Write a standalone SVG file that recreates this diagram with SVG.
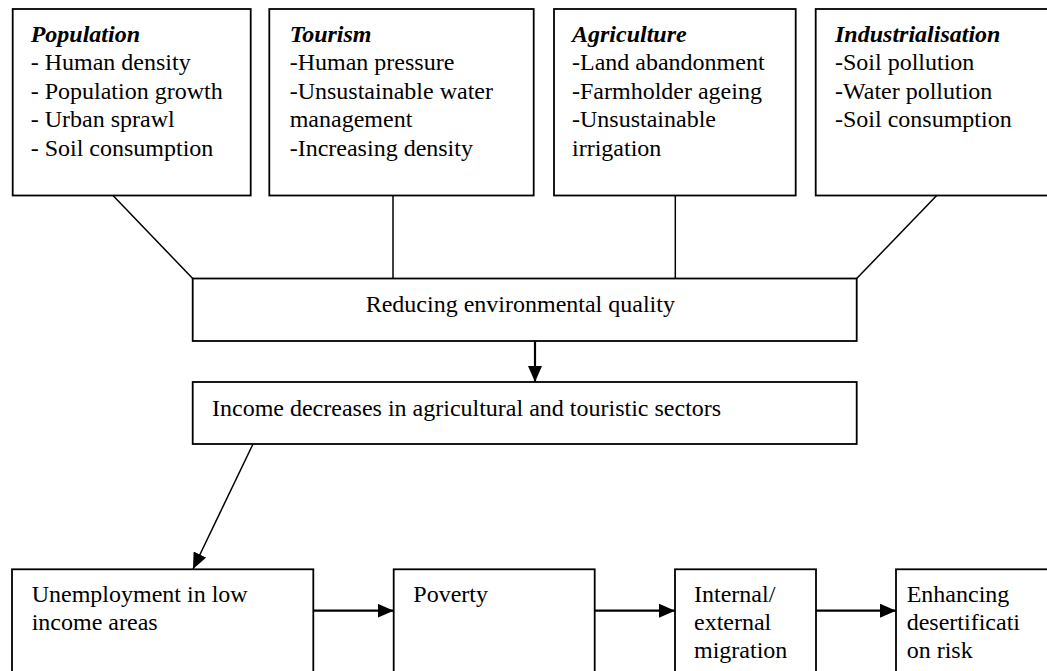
<svg xmlns="http://www.w3.org/2000/svg" width="1047" height="671" viewBox="0 0 1047 671">
<style>
.box{fill:#fff;stroke:#000;stroke-width:1.8}
.t{font-family:"Liberation Serif","Times New Roman",serif;font-size:24px;fill:#000}
.h{font-weight:bold;font-style:italic}
.ln{stroke:#000;stroke-width:1.5;fill:none}
.ar{stroke:#000;stroke-width:2.2;fill:none}
</style>
<defs>
<marker id="ah" markerUnits="userSpaceOnUse" markerWidth="16" markerHeight="14" viewBox="0 0 16 14" refX="16" refY="7" orient="auto">
<path d="M0,0 L16,7 L0,14 Z" fill="#000"/>
</marker>
</defs>
<rect width="1047" height="671" fill="#fff"/>
<g id="connectors">
<line class="ln" x1="113" y1="195.5" x2="192.7" y2="278.5"/>
<line class="ln" x1="393" y1="195.5" x2="393" y2="278.5"/>
<line class="ln" x1="675.3" y1="195.5" x2="675.3" y2="278.5"/>
<line class="ln" x1="936.7" y1="195.5" x2="856.7" y2="278.5"/>
<line class="ar" x1="535" y1="341" x2="535" y2="382" marker-end="url(#ah)"/>
<line class="ln" x1="253" y1="444" x2="193" y2="569" marker-end="url(#ah)"/>
<line class="ar" x1="313.3" y1="610.7" x2="393.7" y2="610.7" marker-end="url(#ah)"/>
<line class="ar" x1="594.7" y1="610.7" x2="675" y2="610.7" marker-end="url(#ah)"/>
<line class="ar" x1="816" y1="610.7" x2="896" y2="610.7" marker-end="url(#ah)"/>
</g>
<g id="population">
<rect class="box" x="12.7" y="9" width="238" height="186.5"/>
<text class="t" x="30.7" y="41.5"><tspan class="h">Population</tspan><tspan x="30.7" y="70">- Human density</tspan><tspan x="30.7" y="98.5">- Population growth</tspan><tspan x="30.7" y="127">- Urban sprawl</tspan><tspan x="30.7" y="155.5">- Soil consumption</tspan></text>
</g>
<g id="tourism">
<rect class="box" x="269.3" y="9" width="264.4" height="186.5"/>
<text class="t" x="289.7" y="41.5"><tspan class="h">Tourism</tspan><tspan x="289.7" y="70">-Human pressure</tspan><tspan x="289.7" y="98.5">-Unsustainable water</tspan><tspan x="289.7" y="127">management</tspan><tspan x="289.7" y="155.5">-Increasing density</tspan></text>
</g>
<g id="agriculture">
<rect class="box" x="554" y="9" width="241.7" height="186.5"/>
<text class="t" x="572" y="41.5"><tspan class="h">Agriculture</tspan><tspan x="572" y="70">-Land abandonment</tspan><tspan x="572" y="98.5">-Farmholder ageing</tspan><tspan x="572" y="127">-Unsustainable</tspan><tspan x="572" y="155.5">irrigation</tspan></text>
</g>
<g id="industrialisation">
<rect class="box" x="815.7" y="9" width="240" height="186.5"/>
<text class="t" x="835" y="41.5"><tspan class="h">Industrialisation</tspan><tspan x="835" y="70">-Soil pollution</tspan><tspan x="835" y="98.5">-Water pollution</tspan><tspan x="835" y="127">-Soil consumption</tspan></text>
</g>
<g id="reducing">
<rect class="box" x="192.7" y="278.5" width="664" height="62.5"/>
<text class="t" x="365.7" y="311.7">Reducing environmental quality</text>
</g>
<g id="income">
<rect class="box" x="192.7" y="382" width="664" height="62"/>
<text class="t" x="212" y="415.7">Income decreases in agricultural and touristic sectors</text>
</g>
<g id="unemployment">
<rect class="box" x="12" y="569.3" width="301.3" height="120"/>
<text class="t" x="31.7" y="601.7">Unemployment in low<tspan x="31.7" y="630">income areas</tspan></text>
</g>
<g id="poverty">
<rect class="box" x="393.7" y="569.3" width="201" height="120"/>
<text class="t" x="413.3" y="601.7">Poverty</text>
</g>
<g id="migration">
<rect class="box" x="675" y="569.3" width="141" height="120"/>
<text class="t" x="694" y="601.7">Internal/<tspan x="694" y="630">external</tspan><tspan x="694" y="658.3">migration</tspan></text>
</g>
<g id="desertification">
<rect class="box" x="896" y="569.3" width="170" height="120"/>
<text class="t" x="906.7" y="601.7">Enhancing<tspan x="906.7" y="630">desertificati</tspan><tspan x="906.7" y="658.3">on risk</tspan></text>
</g>
</svg>
